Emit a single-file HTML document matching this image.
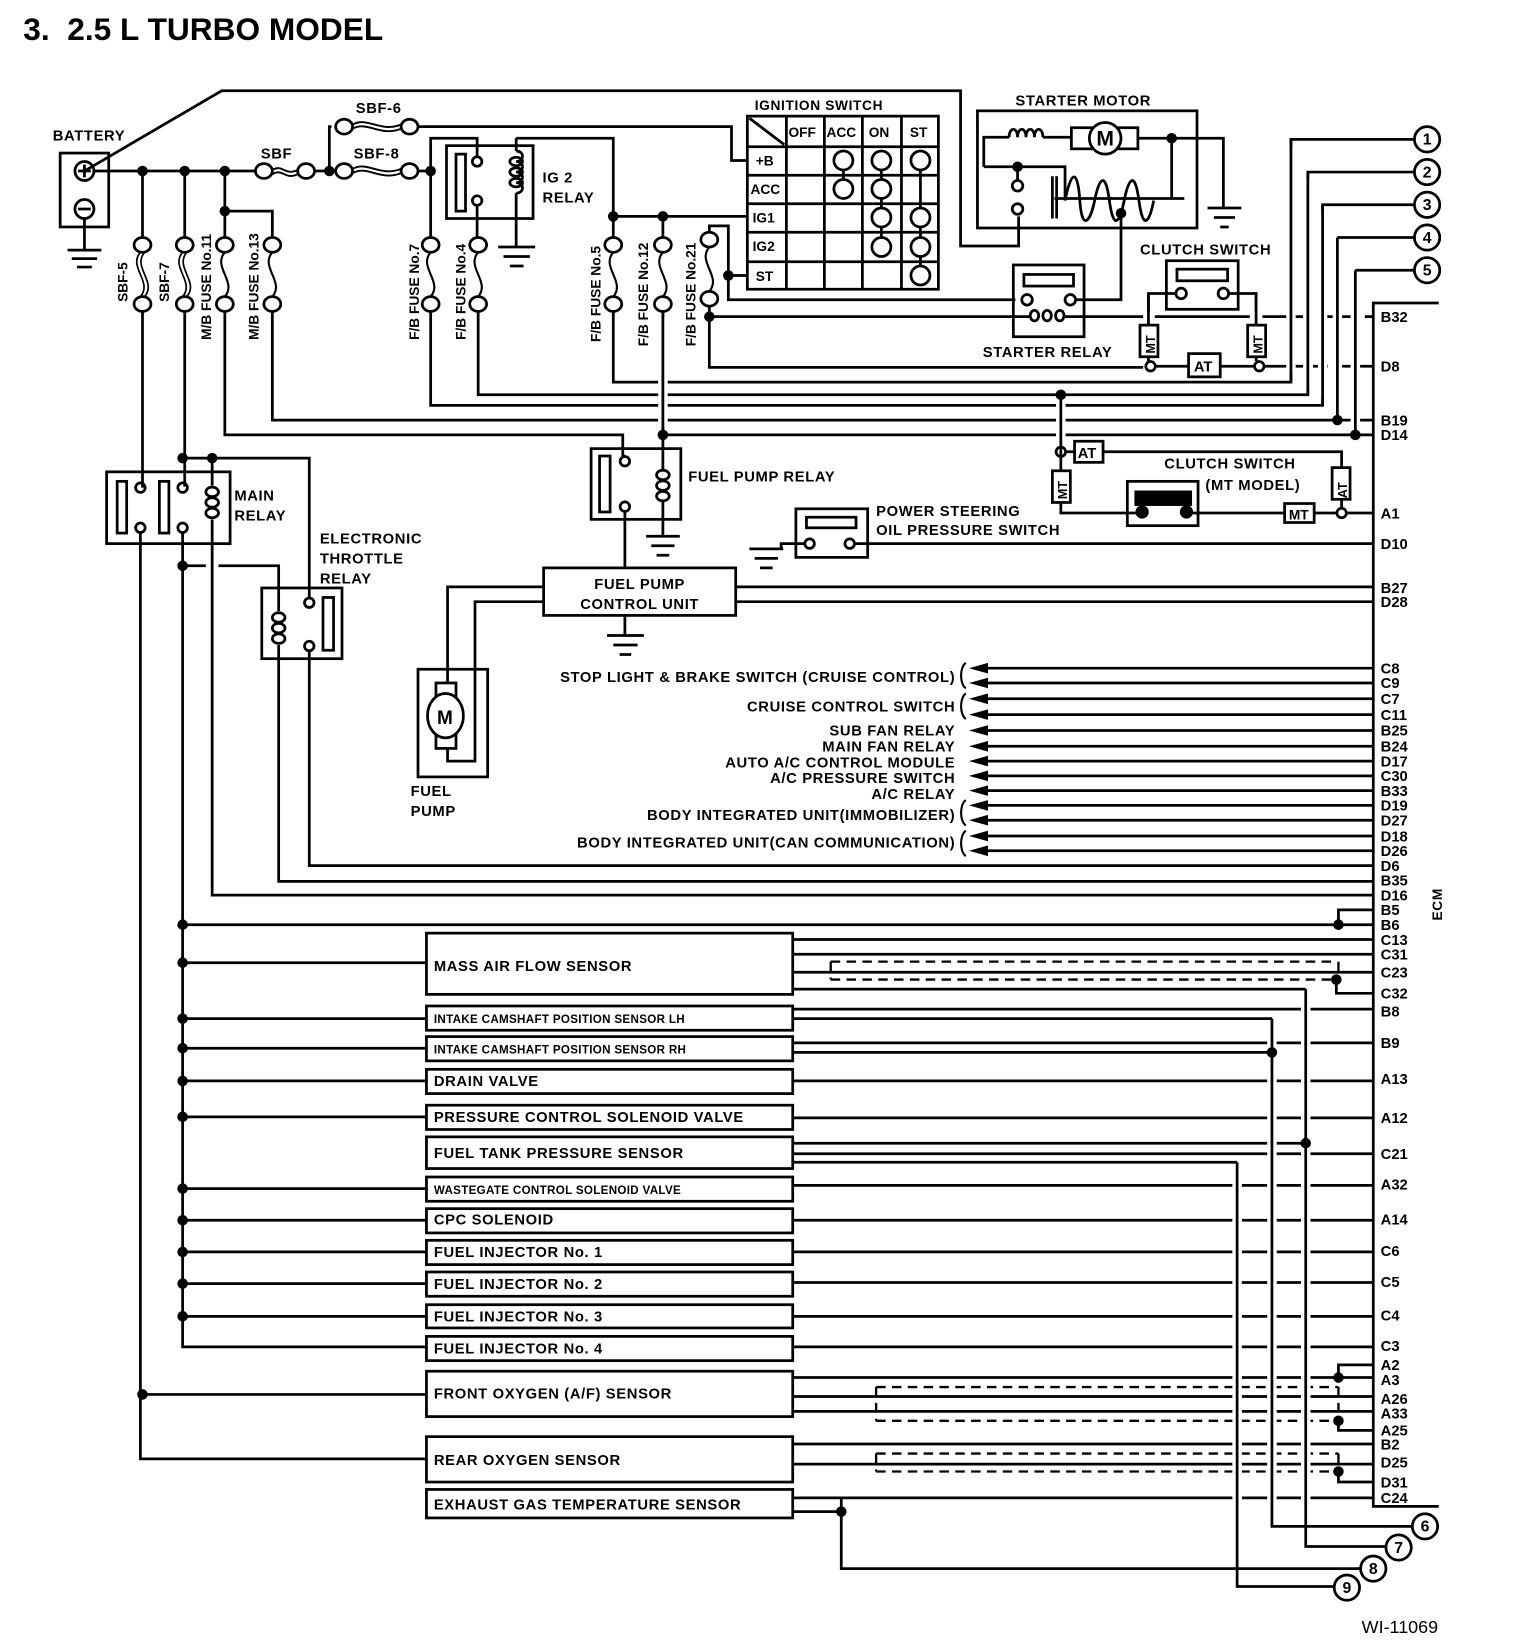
<!DOCTYPE html>
<html><head><meta charset="utf-8"><style>
html,body{margin:0;padding:0;background:#fff}
svg{display:block}
text{font-family:"Liberation Sans",Arial,sans-serif;font-weight:bold;fill:#000}
.l{font-size:14px;letter-spacing:.6px}
.p{font-size:14px}
.s{font-size:11px;letter-spacing:.3px}
</style></head><body>
<svg width="1520" height="1652" viewBox="0 0 1440 1565" preserveAspectRatio="none" xmlns="http://www.w3.org/2000/svg">
<g stroke="#000" stroke-width="2.6" fill="none" stroke-linejoin="miter">
<!-- battery -->
<rect x="57" y="145" width="46" height="70"/>
<circle cx="80" cy="162" r="9"/><path d="M74 162h12M80 156v12"/>
<circle cx="80" cy="198" r="9"/><path d="M74 198h12"/>
<path d="M80 207v30M64 237h32M68 245h24M73 253h14"/>
<path d="M80 162L210 86H910V233H965V205"/>
<!-- main bus -->
<path d="M89 162H242M298 162H314M312 162V120H314M312 162H318M396 162H408"/>
<ellipse cx="250" cy="162" rx="8" ry="7"/><ellipse cx="290" cy="162" rx="8" ry="7"/>
<path d="M258 161c10 -6 12 6 24 0M258 165c10 -6 12 6 24 0" stroke-width="1.8"/>
<ellipse cx="326" cy="162" rx="8" ry="7"/><ellipse cx="388" cy="162" rx="8" ry="7"/>
<path d="M334 160c14 -8 26 8 46 0M334 164c14 -8 26 8 46 0" stroke-width="1.8"/>
<ellipse cx="326" cy="120" rx="8" ry="7"/><ellipse cx="388" cy="120" rx="8" ry="7"/>
<path d="M334 118c14 -8 26 8 46 0M334 122c14 -8 26 8 46 0" stroke-width="1.8"/>
<path d="M396 120H693V152H708"/>
<!-- IG2 relay -->
<path d="M408 162V131H452V148M408 162V225M452 195V225"/>
<rect x="423" y="138" width="82" height="69"/>
<rect x="432" y="146" width="9" height="54"/>
<circle cx="452" cy="153" r="4.5"/><circle cx="452" cy="190" r="4.5"/>
<path d="M489 131V143M489 143c8 0 8 10 0 10c8 0 8 10 0 10c8 0 8 10 0 10c8 0 8 10 0 10M489 183V234M472 234h35M477 243h25M483 252h13"/>
<ellipse cx="489" cy="153" rx="6" ry="4"/><ellipse cx="489" cy="163" rx="6" ry="4"/><ellipse cx="489" cy="173" rx="6" ry="4"/>
<path d="M489 131H581V205H708M628 205V225M581 205V225"/>
<!-- left fuses -->
<path d="M135 162V225M175 162V225M213 162V225M213 200H258V225"/>
<g>
<ellipse cx="135" cy="232" rx="8" ry="7"/><ellipse cx="135" cy="288" rx="8" ry="7"/>
<path d="M133 239c-12 14 12 28 0 42M137 239c-12 14 12 28 0 42" stroke-width="1.6"/>
<ellipse cx="175" cy="232" rx="8" ry="7"/><ellipse cx="175" cy="288" rx="8" ry="7"/>
<path d="M173 239c-12 14 12 28 0 42M177 239c-12 14 12 28 0 42" stroke-width="1.6"/>
<ellipse cx="213" cy="232" rx="8" ry="7"/><ellipse cx="213" cy="288" rx="8" ry="7"/>
<path d="M213 239c-12 14 12 28 0 42" stroke-width="2"/>
<ellipse cx="258" cy="232" rx="8" ry="7"/><ellipse cx="258" cy="288" rx="8" ry="7"/>
<path d="M258 239c-12 14 12 28 0 42" stroke-width="2"/>
<ellipse cx="408" cy="232" rx="8" ry="7"/><ellipse cx="408" cy="288" rx="8" ry="7"/>
<path d="M408 239c-12 14 12 28 0 42" stroke-width="2"/>
<ellipse cx="453" cy="232" rx="8" ry="7"/><ellipse cx="453" cy="288" rx="8" ry="7"/>
<path d="M453 239c-12 14 12 28 0 42" stroke-width="2"/>
<ellipse cx="581" cy="232" rx="8" ry="7"/><ellipse cx="581" cy="288" rx="8" ry="7"/>
<path d="M581 239c-12 14 12 28 0 42" stroke-width="2"/>
<ellipse cx="628" cy="232" rx="8" ry="7"/><ellipse cx="628" cy="288" rx="8" ry="7"/>
<path d="M628 239c-12 14 12 28 0 42" stroke-width="2"/>
<ellipse cx="672" cy="227" rx="8" ry="7"/><ellipse cx="672" cy="283" rx="8" ry="7"/>
<path d="M672 234c-12 14 12 28 0 42" stroke-width="2"/>
</g>
<!-- fuse outputs -->
<path d="M135 295V462M175 295V461M213 295V412H590V432M258 295V398H1301"/>
<path d="M408 295V384H1253V194H1340"/>
<path d="M453 295V374H1239V163H1340"/>
<path d="M581 295V362H1223V132H1340"/>
<path d="M628 295V412H1301"/>
<path d="M1267 225H1340M1284 256H1340"/>
<path d="M672 220V214H690V284H962M690 261H708"/>
<path d="M672 290V348H1083M672 300H960"/>
<!-- ignition switch grid -->
<rect x="708" y="110" width="181" height="164"/>
<path d="M745 110V274M781 110V274M817 110V274M854 110V274M708 139H889M708 166H889M708 193H889M708 220H889M708 248H889M710 112L743 137"/>
<circle cx="799" cy="152" r="9"/><circle cx="799" cy="179" r="9"/>
<circle cx="835" cy="152" r="9"/><circle cx="835" cy="179" r="9"/><circle cx="835" cy="206" r="9"/><circle cx="835" cy="234" r="9"/>
<circle cx="872" cy="152" r="9"/><circle cx="872" cy="206" r="9"/><circle cx="872" cy="234" r="9"/><circle cx="872" cy="261" r="9"/>
<path d="M799 161V170M835 161V170M835 188V197M835 215V225M872 161V197M872 215V225M872 243V252"/>
<!-- starter motor -->
<rect x="926" y="105" width="208" height="111"/>
<path d="M932 158V130H956M956 130c0-10 8-10 8 0c0-10 8-10 8 0c0-10 8-10 8 0c0-10 8-10 8 0M988 130H1015"/>
<rect x="1015" y="121" width="63" height="20"/>
<circle cx="1047" cy="131" r="15" fill="#fff"/>
<path d="M1078 131H1159V197M1110 131V188M1144 197h32M1150 206h20M1156 215h8"/>
<path d="M932 158H1009V190M964 158V170"/>
<circle cx="964" cy="176" r="5"/><circle cx="964" cy="198" r="5"/>
<path d="M997 167V207M1001 167V207M999 188H1122"/>
<path d="M1009 190c6-30 12-30 14 0s10 20 14 0s10-30 14 0s10 20 14 0s10-30 14 0s10 20 14 0"/>
<path d="M1062 202V284H1018"/>
<!-- starter relay -->
<rect x="960" y="251" width="67" height="68"/>
<rect x="970" y="260" width="47" height="11"/>
<circle cx="973" cy="284" r="5"/><circle cx="1014" cy="284" r="5"/>
<path d="M960 300H976M1008 300H1027"/>
<ellipse cx="980" cy="299" rx="4" ry="5"/><ellipse cx="992" cy="299" rx="4" ry="5"/><ellipse cx="1004" cy="299" rx="4" ry="5"/>
<path d="M1027 300H1083M1094 300H1184M1196 300H1205"/>
<path d="M1205 300H1301" stroke-dasharray="14 8"/>
<!-- clutch switch top -->
<rect x="1105" y="247" width="68" height="46"/>
<rect x="1115" y="255" width="48" height="11"/>
<circle cx="1119" cy="278" r="5"/><circle cx="1159" cy="278" r="5"/>
<path d="M1114 278H1088V308M1164 278H1190V308M1088 338V342M1190 338V342"/>
<rect x="1080" y="308" width="17" height="30"/><rect x="1182" y="308" width="17" height="30"/>
<circle cx="1090" cy="347" r="4.5"/><circle cx="1193" cy="347" r="4.5"/>
<rect x="1126" y="335" width="30" height="22"/>
<path d="M1095 347H1126M1156 347H1188M1198 347H1222"/>
<path d="M1222 347H1301" stroke-dasharray="14 8"/>
<!-- AT/MT clutch lower -->
<path d="M1005 423V446M1005 476V486H1076M1010 428H1018M1045 428H1271V443M1271 473V481M1130 486H1217M1245 486H1266M1276 486H1301"/>
<circle cx="1005" cy="428" r="4.5"/><circle cx="1271" cy="486" r="4.5"/>
<rect x="1018" y="418" width="27" height="20"/>
<rect x="997" y="446" width="17" height="30"/>
<rect x="1262" y="443" width="17" height="30"/>
<rect x="1217" y="477" width="28" height="18"/>
<rect x="1068" y="456" width="67" height="42"/>
<rect x="1076" y="466" width="52" height="12" fill="#000"/>
<circle cx="1082" cy="485" r="5" fill="#000"/><circle cx="1124" cy="485" r="5" fill="#000"/>
<!-- power steering switch -->
<rect x="754" y="482" width="68" height="46"/>
<rect x="764" y="490" width="47" height="10"/>
<circle cx="767" cy="515" r="4.5"/><circle cx="805" cy="515" r="4.5"/>
<path d="M762 515H740V520M710 520h32M715 529h22M720 538h12M810 515H1301"/>
<!-- fuel pump relay -->
<rect x="560" y="425" width="85" height="67"/>
<rect x="568" y="432" width="10" height="53"/>
<circle cx="592" cy="437" r="4.5"/><circle cx="592" cy="480" r="4.5"/>
<path d="M590 432H592M628 412V440M628 480V508M612 508h32M617 517h22M622 526h12"/>
<ellipse cx="628" cy="450" rx="6" ry="4.5"/><ellipse cx="628" cy="460" rx="6" ry="4.5"/><ellipse cx="628" cy="470" rx="6" ry="4.5"/>
<path d="M628 440V446M628 474V480M592 485V538"/>
<!-- FPCU -->
<rect x="515" y="538" width="182" height="45"/>
<path d="M592 583V602M575 602h35M581 611h23M587 620h11"/>
<path d="M697 556H1301M697 570H1301"/>
<path d="M515 556H424V647M515 570H450V721H424V709"/>
<!-- fuel pump -->
<rect x="396" y="634" width="66" height="102"/>
<rect x="413" y="647" width="19" height="18"/><rect x="413" y="691" width="19" height="18"/>
<ellipse cx="422" cy="678" rx="17" ry="21" fill="#fff"/>
<!-- main relay -->
<rect x="101" y="447" width="117" height="68"/>
<rect x="111" y="456" width="9" height="49"/><rect x="151" y="456" width="9" height="49"/>
<circle cx="133" cy="462" r="4.5"/><circle cx="133" cy="500" r="4.5"/>
<circle cx="173" cy="462" r="4.5"/><circle cx="173" cy="500" r="4.5"/>
<path d="M201 434V460M201 492V848H1301"/>
<ellipse cx="201" cy="466" rx="6" ry="4.5"/><ellipse cx="201" cy="476" rx="6" ry="4.5"/><ellipse cx="201" cy="486" rx="6" ry="4.5"/>
<path d="M173 434H293V566M133 505V1382H404M173 505V1276H404"/>
<path d="M173 536H195M207 536H264V579"/>
<!-- throttle relay -->
<rect x="248" y="557" width="76" height="67"/>
<rect x="306" y="566" width="10" height="50"/>
<circle cx="293" cy="571" r="4.5"/><circle cx="293" cy="612" r="4.5"/>
<ellipse cx="264" cy="585" rx="6" ry="4.5"/><ellipse cx="264" cy="595" rx="6" ry="4.5"/><ellipse cx="264" cy="605" rx="6" ry="4.5"/>
<path d="M264 611V835H1301M293 617V820H1301"/>
<!-- arrow lines -->
<path d="M935 633H1301M935 647H1301M935 662H1301M935 677H1301M935 692H1301M935 707H1301M935 721H1301M935 735H1301M935 749H1301M935 763H1301M935 777H1301M935 792H1301M935 806H1301"/>
<path d="M915 628c-6 4-6 20 0 24M915 657c-6 4-6 20 0 24M915 758c-6 4-6 20 0 24M915 787c-6 4-6 20 0 24" stroke-width="2"/>
<!-- B5/B6 -->
<path d="M173 876H1301M1268 876V862H1301"/>
<!-- sensor boxes -->
<rect x="404" y="884" width="347" height="58"/>
<rect x="404" y="953" width="347" height="23"/>
<rect x="404" y="982" width="347" height="23"/>
<rect x="404" y="1013" width="347" height="23"/>
<rect x="404" y="1047" width="347" height="23"/>
<rect x="404" y="1077" width="347" height="30"/>
<rect x="404" y="1115" width="347" height="23"/>
<rect x="404" y="1145" width="347" height="23"/>
<rect x="404" y="1175" width="347" height="23"/>
<rect x="404" y="1205" width="347" height="23"/>
<rect x="404" y="1236" width="347" height="22"/>
<rect x="404" y="1266" width="347" height="23"/>
<rect x="404" y="1299" width="347" height="43"/>
<rect x="404" y="1361" width="347" height="43"/>
<rect x="404" y="1411" width="347" height="27"/>
<path d="M173 912H404M173 965H404M173 993H404M173 1024H404M173 1058H404M173 1126H404M173 1156H404M173 1186H404M173 1216H404M173 1247H404M135 1321H404"/>
<!-- sensor right lines -->
<path d="M751 890H1301M751 904H1301M751 921H1301M751 937H1237M1266 928V941H1301"/>
<path d="M751 956H1301M751 965H1205M751 988H1301M751 997H1205M751 1024H1301M751 1059H1301M751 1083H1237M751 1093H1301M751 1101H1172M751 1123H1301M751 1156H1301M751 1186H1301M751 1215H1301M751 1247H1301M751 1276H1301"/>
<path d="M751 1305H1301M1268 1305V1293H1301M751 1323H1301M751 1337H1301M1268 1346V1355H1301"/>
<path d="M751 1368H1301M751 1387H1301M1268 1394V1404H1301M751 1419H1301M751 1432H797"/>
<g stroke-dasharray="9 6" stroke-width="2.2">
<path d="M787 911H1266M787 928H1266M787 911V928M1268 911V928"/>
<path d="M830 1314H1268M830 1346H1268M830 1314V1346M1268 1314V1346"/>
<path d="M830 1377H1268M830 1394H1268M830 1377V1394M1268 1377V1394"/>
</g>
<!-- ECM box -->
<path d="M1363 287H1301V1427H1363"/>
<!-- vertical crossing lines with gaps -->
<g stroke="#fff" stroke-width="9">
<path d="M1223 140V353M1239 171V366M1253 202V377M1267 233V390M1284 264V404M1005 382V420M628 300V404M1088 295V306M1190 295V306M1172 1109V1495M1205 973V1438M1237 945V1457M797 1426V1478"/>
</g>
<path d="M1223 132V361M1239 163V374M1253 194V385M1267 225V398M1284 256V412M1005 374V423M628 295V412M1088 278V308M1190 278V308"/>
<path d="M1172 1101V1503H1264M1205 965V1446H1338M1237 937V1465H1313M797 1419V1486H1289"/>
<!-- numbered circles -->
<circle cx="1352" cy="132" r="12"/><circle cx="1352" cy="163" r="12"/><circle cx="1352" cy="194" r="12"/><circle cx="1352" cy="225" r="12"/><circle cx="1352" cy="256" r="12"/>
<circle cx="1350" cy="1446" r="12"/><circle cx="1325" cy="1466" r="12"/><circle cx="1301" cy="1486" r="12"/><circle cx="1276" cy="1504" r="12"/>
</g>
<!-- arrowheads -->
<g fill="#000">
<path d="M918 633l18-5v10zM918 647l18-5v10zM918 662l18-5v10zM918 677l18-5v10zM918 692l18-5v10zM918 707l18-5v10zM918 721l18-5v10zM918 735l18-5v10zM918 749l18-5v10zM918 763l18-5v10zM918 777l18-5v10zM918 792l18-5v10zM918 806l18-5v10z"/>
<!-- dots -->
<circle cx="135" cy="162" r="5"/><circle cx="175" cy="162" r="5"/><circle cx="213" cy="162" r="5"/><circle cx="213" cy="200" r="5"/>
<circle cx="312" cy="162" r="5"/><circle cx="408" cy="162" r="5"/><circle cx="581" cy="205" r="5"/><circle cx="628" cy="205" r="5"/>
<circle cx="690" cy="261" r="5"/><circle cx="672" cy="300" r="5"/><circle cx="964" cy="158" r="5"/><circle cx="1110" cy="131" r="5"/><circle cx="1062" cy="202" r="5"/>
<circle cx="1005" cy="374" r="5"/><circle cx="1267" cy="398" r="5"/><circle cx="1284" cy="412" r="5"/><circle cx="628" cy="412" r="5"/>
<circle cx="173" cy="434" r="5"/><circle cx="201" cy="434" r="5"/><circle cx="173" cy="536" r="5"/>
<circle cx="1268" cy="876" r="5"/><circle cx="1266" cy="928" r="5"/><circle cx="1205" cy="997" r="5"/><circle cx="1237" cy="1083" r="5"/>
<circle cx="1268" cy="1305" r="5"/><circle cx="1268" cy="1346" r="5"/><circle cx="1268" cy="1394" r="5"/><circle cx="797" cy="1432" r="5"/>
<circle cx="135" cy="1321" r="5"/>
<circle cx="173" cy="876" r="5"/><circle cx="173" cy="912" r="5"/><circle cx="173" cy="965" r="5"/><circle cx="173" cy="993" r="5"/><circle cx="173" cy="1024" r="5"/><circle cx="173" cy="1058" r="5"/><circle cx="173" cy="1126" r="5"/><circle cx="173" cy="1156" r="5"/><circle cx="173" cy="1186" r="5"/><circle cx="173" cy="1216" r="5"/><circle cx="173" cy="1247" r="5"/>
</g>
<!-- texts -->
<text x="22" y="38" style="font-size:30px">3.&#160;&#160;2.5 L TURBO MODEL</text>
<text class="l" x="50" y="133">BATTERY</text>
<text class="l" x="337" y="107">SBF-6</text>
<text class="l" x="247" y="150">SBF</text>
<text class="l" x="335" y="150">SBF-8</text>
<text class="l" x="514" y="173">IG 2</text>
<text class="l" x="514" y="192">RELAY</text>
<text class="l" x="715" y="104" style="font-size:13px">IGNITION SWITCH</text>
<g style="font-size:13px">
<text x="747" y="130">OFF</text><text x="783" y="130">ACC</text><text x="823" y="130">ON</text><text x="862" y="130">ST</text>
<text x="716" y="157">+B</text><text x="711" y="184">ACC</text><text x="713" y="211">IG1</text><text x="713" y="238">IG2</text><text x="716" y="266">ST</text>
</g>
<text class="l" x="962" y="100">STARTER MOTOR</text>
<text x="1047" y="138" text-anchor="middle" style="font-size:20px">M</text>
<text class="l" x="1080" y="241">CLUTCH SWITCH</text>
<text class="l" x="931" y="338">STARTER RELAY</text>
<text x="1131" y="352" style="font-size:14px">AT</text>
<text x="1021" y="434" style="font-size:14px">AT</text>
<text x="1221" y="492" style="font-size:13px">MT</text>
<g style="font-size:12px">
<text transform="translate(1094,335) rotate(-90)">MT</text>
<text transform="translate(1196,335) rotate(-90)">MT</text>
<text transform="translate(1011,473) rotate(-90)">MT</text>
<text transform="translate(1276,472) rotate(-90)">AT</text>
</g>
<text class="l" x="1103" y="444">CLUTCH SWITCH</text>
<text class="l" x="1142" y="464">(MT MODEL)</text>
<text class="l" x="830" y="489">POWER STEERING</text>
<text class="l" x="830" y="507">OIL PRESSURE SWITCH</text>
<text class="l" x="652" y="456">FUEL PUMP RELAY</text>
<text class="l" x="606" y="558" text-anchor="middle">FUEL PUMP</text>
<text class="l" x="606" y="577" text-anchor="middle">CONTROL UNIT</text>
<text class="l" x="222" y="474">MAIN</text>
<text class="l" x="222" y="493">RELAY</text>
<text class="l" x="303" y="515">ELECTRONIC</text>
<text class="l" x="303" y="534">THROTTLE</text>
<text class="l" x="303" y="553">RELAY</text>
<text class="l" x="389" y="754">FUEL</text>
<text class="l" x="389" y="773">PUMP</text>
<text x="414" y="686" style="font-size:18px">M</text>
<g style="font-size:13px">
<text transform="translate(121,286) rotate(-90)">SBF-5</text>
<text transform="translate(160,286) rotate(-90)">SBF-7</text>
<text transform="translate(200,322) rotate(-90)">M/B FUSE No.11</text>
<text transform="translate(245,322) rotate(-90)">M/B FUSE No.13</text>
<text transform="translate(397,322) rotate(-90)">F/B FUSE No.7</text>
<text transform="translate(441,322) rotate(-90)">F/B FUSE No.4</text>
<text transform="translate(569,324) rotate(-90)">F/B FUSE No.5</text>
<text transform="translate(614,328) rotate(-90)">F/B FUSE No.12</text>
<text transform="translate(659,328) rotate(-90)">F/B FUSE No.21</text>
</g>
<g class="l" text-anchor="end" style="font-size:14px">
<text x="905" y="646">STOP LIGHT &amp; BRAKE SWITCH (CRUISE CONTROL)</text>
<text x="905" y="674">CRUISE CONTROL SWITCH</text>
<text x="905" y="697">SUB FAN RELAY</text>
<text x="905" y="712">MAIN FAN RELAY</text>
<text x="905" y="727">AUTO A/C CONTROL MODULE</text>
<text x="905" y="742">A/C PRESSURE SWITCH</text>
<text x="905" y="757">A/C RELAY</text>
<text x="905" y="777">BODY INTEGRATED UNIT(IMMOBILIZER)</text>
<text x="905" y="803">BODY INTEGRATED UNIT(CAN COMMUNICATION)</text>
</g>
<g class="l">
<text x="411" y="920">MASS AIR FLOW SENSOR</text>
<text class="s" x="411" y="969">INTAKE CAMSHAFT POSITION SENSOR LH</text>
<text class="s" x="411" y="998">INTAKE CAMSHAFT POSITION SENSOR RH</text>
<text x="411" y="1029">DRAIN VALVE</text>
<text x="411" y="1063">PRESSURE CONTROL SOLENOID VALVE</text>
<text x="411" y="1097">FUEL TANK PRESSURE SENSOR</text>
<text class="s" x="411" y="1131">WASTEGATE CONTROL SOLENOID VALVE</text>
<text x="411" y="1160">CPC SOLENOID</text>
<text x="411" y="1191">FUEL INJECTOR No. 1</text>
<text x="411" y="1221">FUEL INJECTOR No. 2</text>
<text x="411" y="1252">FUEL INJECTOR No. 3</text>
<text x="411" y="1282">FUEL INJECTOR No. 4</text>
<text x="411" y="1325">FRONT OXYGEN (A/F) SENSOR</text>
<text x="411" y="1388">REAR OXYGEN SENSOR</text>
<text x="411" y="1430">EXHAUST GAS TEMPERATURE SENSOR</text>
</g>
<g class="p">
<text x="1308" y="305">B32</text><text x="1308" y="352">D8</text><text x="1308" y="403">B19</text><text x="1308" y="417">D14</text>
<text x="1308" y="491">A1</text><text x="1308" y="520">D10</text><text x="1308" y="562">B27</text><text x="1308" y="575">D28</text>
<text x="1308" y="638">C8</text><text x="1308" y="652">C9</text><text x="1308" y="667">C7</text><text x="1308" y="682">C11</text>
<text x="1308" y="697">B25</text><text x="1308" y="712">B24</text><text x="1308" y="726">D17</text><text x="1308" y="740">C30</text>
<text x="1308" y="754">B33</text><text x="1308" y="768">D19</text><text x="1308" y="782">D27</text><text x="1308" y="797">D18</text>
<text x="1308" y="811">D26</text><text x="1308" y="825">D6</text><text x="1308" y="839">B35</text><text x="1308" y="853">D16</text>
<text x="1308" y="867">B5</text><text x="1308" y="881">B6</text><text x="1308" y="895">C13</text><text x="1308" y="909">C31</text>
<text x="1308" y="926">C23</text><text x="1308" y="946">C32</text><text x="1308" y="963">B8</text><text x="1308" y="993">B9</text>
<text x="1308" y="1027">A13</text><text x="1308" y="1064">A12</text><text x="1308" y="1098">C21</text><text x="1308" y="1127">A32</text>
<text x="1308" y="1160">A14</text><text x="1308" y="1190">C6</text><text x="1308" y="1219">C5</text><text x="1308" y="1251">C4</text>
<text x="1308" y="1280">C3</text><text x="1308" y="1298">A2</text><text x="1308" y="1312">A3</text><text x="1308" y="1330">A26</text>
<text x="1308" y="1344">A33</text><text x="1308" y="1360">A25</text><text x="1308" y="1373">B2</text><text x="1308" y="1390">D25</text>
<text x="1308" y="1409">D31</text><text x="1308" y="1424">C24</text>
</g>
<text class="l" transform="translate(1366,872) rotate(-90)" style="font-size:13px">ECM</text>
<g style="font-size:15px" text-anchor="middle">
<text x="1352" y="137">1</text><text x="1352" y="168">2</text><text x="1352" y="199">3</text><text x="1352" y="230">4</text><text x="1352" y="261">5</text>
<text x="1350" y="1451">6</text><text x="1325" y="1471">7</text><text x="1301" y="1491">8</text><text x="1276" y="1509">9</text>
</g>
<text x="1290" y="1547" style="font-size:17px;font-weight:normal">WI-11069</text>
</svg>
</body></html>
